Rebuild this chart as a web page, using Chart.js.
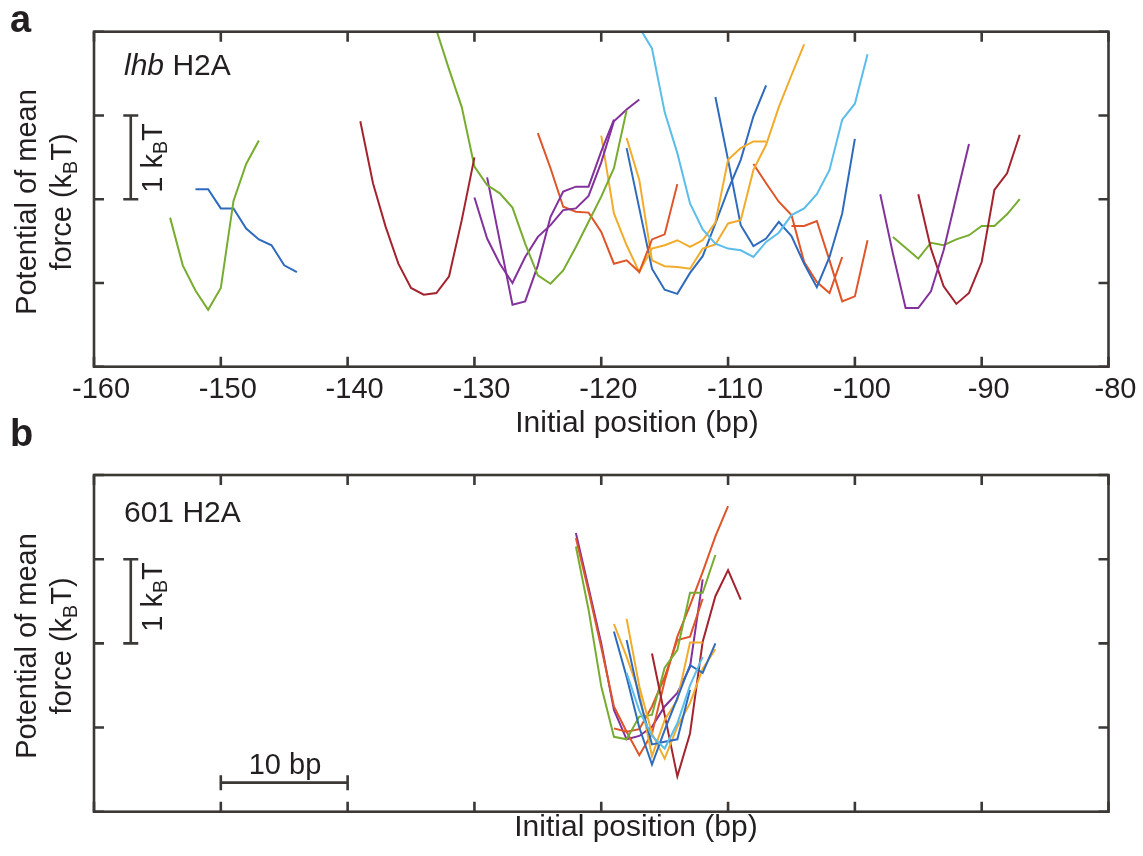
<!DOCTYPE html>
<html>
<head>
<meta charset="utf-8">
<title>Potential of mean force</title>
<script src="https://cdn.jsdelivr.net/npm/chart.js@4.4.1/dist/chart.umd.min.js"></script>
<style>
  html, body { margin: 0; padding: 0; background: #fff; }
  body {
    width: 1143px; height: 856px; position: relative; overflow: hidden;
    font-family: Arial, "Liberation Sans", sans-serif; color: #231f20;
  }
  canvas { position: absolute; left: 0; }
  #chart-a { top: 0; }
  #chart-b { top: 460px; }
  .label { position: absolute; white-space: nowrap; font-size: 29px; line-height: 35px; }
  .panel-letter { font-weight: bold; font-size: 38px; line-height: 44px; }
  .rotated { transform: translate(-50%, -50%) rotate(-90deg); text-align: center; }
  .centered { transform: translateX(-50%); }
  sub { font-size: 0.68em; line-height: 0; vertical-align: -0.28em; }
</style>
</head>
<body>

<canvas id="chart-a" width="1143" height="460"></canvas>
<canvas id="chart-b" width="1143" height="396"></canvas>

<div class="label panel-letter" style="left:10px; top:-3px;">a</div>
<div class="label panel-letter" style="left:10px; top:411px;">b</div>

<div class="label rotated" style="left:44px; top:202px;">Potential of mean<br>force (k<sub>B</sub>T)</div>
<div class="label rotated" style="left:44px; top:646px;">Potential of mean<br>force (k<sub>B</sub>T)</div>

<div class="label rotated" style="left:152px; top:158px;">1 k<sub>B</sub>T</div>
<div class="label rotated" style="left:152px; top:597px;">1 k<sub>B</sub>T</div>

<div class="label" style="left:124px; top:47px; font-size:30px;"><i>lhb</i> H2A</div>
<div class="label" style="left:124px; top:494px; font-size:30px;">601 H2A</div>

<div class="label centered" style="left:285px; top:747px;">10 bp</div>

<div class="label centered" style="left:637px; top:404px; font-size:30px;">Initial position (bp)</div>
<div class="label centered" style="left:636px; top:808px; font-size:30px;">Initial position (bp)</div>

<script>
// ==============================
// Axis Values
// ==============================
const positionTicks = [-160, -150, -140, -130, -120, -110, -100, -90, -80];
const pmfTicks = [0, 1, 2, 3, 4];

// ==============================
// Data: panel a (lhb H2A)
// ==============================
const lhbGreen1Pos = [-154, -153, -152, -151, -150, -149, -148, -147];
const lhbGreen1Pmf = [1.78, 1.21, 0.91, 0.68, 0.94, 1.98, 2.42, 2.70];

const lhbBlue1Pos = [-152, -151, -150, -149, -148, -147, -146, -145, -144];
const lhbBlue1Pmf = [2.12, 2.12, 1.89, 1.89, 1.65, 1.52, 1.45, 1.21, 1.13];

const lhbRed1Pos = [-139, -138, -137, -136, -135, -134, -133, -132, -131, -130];
const lhbRed1Pmf = [2.93, 2.19, 1.67, 1.23, 0.94, 0.86, 0.88, 1.08, 1.75, 2.50];

const lhbGreen2Pos = [-133, -132, -131, -130, -129, -128, -127, -126, -125, -124, -123, -122, -121, -120, -119, -118];
const lhbGreen2Pmf = [4.02, 3.55, 3.10, 2.39, 2.17, 2.07, 1.90, 1.47, 1.09, 0.99, 1.15, 1.43, 1.73, 2.03, 2.37, 3.06];

const lhbPurple1Pos = [-130, -129, -128, -127, -126, -125, -124, -123, -122, -121, -120, -119, -118, -117];
const lhbPurple1Pmf = [2.02, 1.53, 1.23, 1.00, 1.31, 1.55, 1.69, 1.87, 1.89, 2.04, 2.44, 2.93, 3.07, 3.19];

const lhbPurple2Pos = [-129, -128, -127, -126, -125, -124, -123, -122, -121, -120, -119];
const lhbPurple2Pmf = [2.26, 1.50, 0.74, 0.78, 1.21, 1.79, 2.09, 2.15, 2.15, 2.57, 2.95];

const lhbOrange1Pos = [-125, -124, -123, -122, -121, -120, -119, -118, -117, -116, -115, -114];
const lhbOrange1Pmf = [2.79, 2.37, 1.91, 1.85, 1.84, 1.61, 1.23, 1.27, 1.13, 1.52, 1.58, 2.18];

const lhbYellow1Pos = [-120, -119, -118, -117, -116, -115, -114, -113, -112, -111, -110, -109, -108, -107];
const lhbYellow1Pmf = [2.76, 1.83, 1.45, 1.13, 1.41, 1.45, 1.51, 1.43, 1.51, 1.72, 2.47, 2.61, 2.69, 2.69];

const lhbYellow2Pos = [-118, -117, -116, -115, -114, -113, -112, -111, -110, -109, -108, -107, -106, -105, -104];
const lhbYellow2Pmf = [2.73, 2.23, 1.27, 1.20, 1.19, 1.17, 1.41, 1.46, 1.71, 1.75, 2.35, 2.65, 3.10, 3.48, 3.85];

const lhbBlue2Pos = [-118, -117, -116, -115, -114, -113, -112, -111, -110, -109, -108, -107];
const lhbBlue2Pmf = [2.61, 1.89, 1.17, 0.92, 0.87, 1.12, 1.32, 1.71, 2.11, 2.47, 2.99, 3.36];

const lhbBlue3Pos = [-111, -110, -109, -108, -107, -106, -105, -104, -103, -102, -101, -100];
const lhbBlue3Pmf = [3.22, 2.47, 1.69, 1.44, 1.53, 1.73, 1.56, 1.23, 0.95, 1.31, 1.83, 2.72];

const lhbSkyPos = [-117, -116, -115, -114, -113, -112, -111, -110, -109, -108, -107, -106, -105, -104, -103, -102, -101, -100, -99];
const lhbSkyPmf = [4.05, 3.80, 3.04, 2.55, 1.95, 1.64, 1.47, 1.41, 1.39, 1.31, 1.49, 1.60, 1.81, 1.89, 2.06, 2.35, 2.95, 3.14, 3.73];

const lhbOrange2Pos = [-108, -107, -106, -105, -104, -103, -102, -101];
const lhbOrange2Pmf = [2.42, 2.19, 1.97, 1.81, 1.25, 1.01, 0.88, 1.31];

const lhbOrange3Pos = [-105, -104, -103, -102, -101, -100, -99];
const lhbOrange3Pmf = [1.68, 1.68, 1.74, 1.27, 0.78, 0.84, 1.51];

const lhbPurple3Pos = [-98, -97, -96, -95, -94, -93, -92, -91];
const lhbPurple3Pmf = [2.06, 1.35, 0.70, 0.70, 0.90, 1.39, 2.03, 2.66];

const lhbRed2Pos = [-95, -94, -93, -92, -91, -90, -89, -88, -87];
const lhbRed2Pmf = [2.06, 1.41, 0.96, 0.75, 0.88, 1.25, 2.11, 2.31, 2.77];

const lhbGreen3Pos = [-97, -96, -95, -94, -93, -92, -91, -90, -89, -88, -87];
const lhbGreen3Pmf = [1.55, 1.42, 1.29, 1.48, 1.45, 1.52, 1.57, 1.68, 1.68, 1.82, 2.00];

// ==============================
// Data: panel b (601 H2A)
// ==============================
const w601PurplePos = [-122, -121, -120, -119, -118, -117, -116, -115, -114, -113, -112];
const w601PurplePmf = [3.31, 2.66, 2.00, 1.21, 0.86, 0.90, 1.01, 1.25, 1.41, 1.72, 2.76];

const w601GreenPos = [-122, -121, -120, -119, -118, -117, -116, -115, -114, -113, -112, -111];
const w601GreenPmf = [3.15, 2.40, 1.49, 0.89, 0.86, 1.13, 1.15, 1.71, 1.92, 2.60, 2.60, 3.05];

const w601Orange1Pos = [-122, -121, -120, -119, -118, -117, -116, -115, -114, -113, -112, -111, -110];
const w601Orange1Pmf = [3.25, 2.62, 1.95, 1.25, 0.95, 0.67, 0.93, 1.55, 2.08, 2.45, 2.85, 3.27, 3.63];

const w601Orange2Pos = [-119, -118, -117, -116, -115, -114, -113, -112];
const w601Orange2Pmf = [0.99, 0.95, 0.98, 1.25, 1.60, 2.04, 2.08, 2.53];

const w601Yellow1Pos = [-119, -118, -117, -116, -115, -114, -113, -112];
const w601Yellow1Pmf = [2.23, 1.84, 1.41, 0.66, 1.09, 1.33, 2.01, 2.01];

const w601Yellow2Pos = [-118, -117, -116, -115, -114, -113, -112, -111];
const w601Yellow2Pmf = [2.29, 1.49, 0.93, 0.63, 1.01, 1.29, 1.70, 1.93];

const w601Blue1Pos = [-119, -118, -117, -116, -115, -114, -113, -112, -111];
const w601Blue1Pmf = [2.14, 1.60, 1.00, 0.56, 0.97, 1.35, 1.74, 1.65, 2.00];

const w601Blue2Pos = [-118, -117, -116, -115, -114, -113];
const w601Blue2Pmf = [2.04, 1.35, 0.80, 0.83, 0.86, 1.45];

const w601SkyPos = [-118, -117, -116, -115, -114, -113, -112];
const w601SkyPmf = [1.65, 1.20, 0.90, 0.75, 1.05, 1.50, 1.84];

const w601RedPos = [-116, -115, -114, -113, -112, -111, -110, -109];
const w601RedPmf = [1.88, 1.15, 0.42, 0.93, 2.02, 2.56, 2.87, 2.52];

// ==============================
// Styles
// ==============================
const colors = {
    blue: "#2f6bbd",
    orange: "#df5527",
    yellow: "#f2ac2b",
    purple: "#82329a",
    green: "#77ac30",
    sky: "#5bbdea",
    red: "#a3232e"
};
const inkColor = "#231f20";
const frameColor = "#3b3836";
const fontFamily = "Arial, 'Liberation Sans', sans-serif";

const lhbRuns = [
    { color: colors.green, pos: lhbGreen1Pos, pmf: lhbGreen1Pmf },
    { color: colors.blue, pos: lhbBlue1Pos, pmf: lhbBlue1Pmf },
    { color: colors.red, pos: lhbRed1Pos, pmf: lhbRed1Pmf },
    { color: colors.green, pos: lhbGreen2Pos, pmf: lhbGreen2Pmf },
    { color: colors.purple, pos: lhbPurple1Pos, pmf: lhbPurple1Pmf },
    { color: colors.purple, pos: lhbPurple2Pos, pmf: lhbPurple2Pmf },
    { color: colors.orange, pos: lhbOrange1Pos, pmf: lhbOrange1Pmf },
    { color: colors.sky, pos: lhbSkyPos, pmf: lhbSkyPmf },
    { color: colors.yellow, pos: lhbYellow1Pos, pmf: lhbYellow1Pmf },
    { color: colors.yellow, pos: lhbYellow2Pos, pmf: lhbYellow2Pmf },
    { color: colors.blue, pos: lhbBlue2Pos, pmf: lhbBlue2Pmf },
    { color: colors.blue, pos: lhbBlue3Pos, pmf: lhbBlue3Pmf },
    { color: colors.orange, pos: lhbOrange2Pos, pmf: lhbOrange2Pmf },
    { color: colors.orange, pos: lhbOrange3Pos, pmf: lhbOrange3Pmf },
    { color: colors.purple, pos: lhbPurple3Pos, pmf: lhbPurple3Pmf },
    { color: colors.red, pos: lhbRed2Pos, pmf: lhbRed2Pmf },
    { color: colors.green, pos: lhbGreen3Pos, pmf: lhbGreen3Pmf }
];

const w601Runs = [
    { color: colors.sky, pos: w601SkyPos, pmf: w601SkyPmf },
    { color: colors.blue, pos: w601Blue1Pos, pmf: w601Blue1Pmf },
    { color: colors.blue, pos: w601Blue2Pos, pmf: w601Blue2Pmf },
    { color: colors.yellow, pos: w601Yellow1Pos, pmf: w601Yellow1Pmf },
    { color: colors.yellow, pos: w601Yellow2Pos, pmf: w601Yellow2Pmf },
    { color: colors.red, pos: w601RedPos, pmf: w601RedPmf },
    { color: colors.green, pos: w601GreenPos, pmf: w601GreenPmf },
    { color: colors.orange, pos: w601Orange2Pos, pmf: w601Orange2Pmf },
    { color: colors.orange, pos: w601Orange1Pos, pmf: w601Orange1Pmf },
    { color: colors.purple, pos: w601PurplePos, pmf: w601PurplePmf }
];

// ==============================
// Frame, inward ticks and scale bars
// ==============================
const framePlugin = {
    id: "frame",
    afterDatasetsDraw(chart, args, opts) {
        const ctx = chart.ctx;
        const area = chart.chartArea;
        const xScale = chart.scales.x;
        const yScale = chart.scales.y;
        const tick = 10;

        ctx.save();
        ctx.strokeStyle = frameColor;
        ctx.lineWidth = 2.6;
        ctx.lineCap = "butt";
        ctx.beginPath();

        xScale.ticks.forEach(function (t) {
            const px = xScale.getPixelForValue(t.value);
            ctx.moveTo(px, area.bottom);
            ctx.lineTo(px, area.bottom - tick);
            ctx.moveTo(px, area.top);
            ctx.lineTo(px, area.top + tick);
        });
        yScale.ticks.forEach(function (t) {
            const py = yScale.getPixelForValue(t.value);
            ctx.moveTo(area.left, py);
            ctx.lineTo(area.left + tick, py);
            ctx.moveTo(area.right, py);
            ctx.lineTo(area.right - tick, py);
        });
        ctx.stroke();
        ctx.strokeRect(area.left, area.top, area.right - area.left, area.bottom - area.top);

        // 1 kBT bar
        if (opts.energyBar) {
            const bx = xScale.getPixelForValue(opts.energyBar.x);
            const y1 = yScale.getPixelForValue(opts.energyBar.from);
            const y2 = yScale.getPixelForValue(opts.energyBar.to);
            ctx.beginPath();
            ctx.moveTo(bx, y1);
            ctx.lineTo(bx, y2);
            ctx.moveTo(bx - 7.5, y1);
            ctx.lineTo(bx + 7.5, y1);
            ctx.moveTo(bx - 7.5, y2);
            ctx.lineTo(bx + 7.5, y2);
            ctx.stroke();
        }

        // 10 bp bar
        if (opts.lengthBar) {
            const by = yScale.getPixelForValue(opts.lengthBar.y);
            const x1 = xScale.getPixelForValue(opts.lengthBar.from);
            const x2 = xScale.getPixelForValue(opts.lengthBar.to);
            ctx.beginPath();
            ctx.moveTo(x1, by);
            ctx.lineTo(x2, by);
            ctx.moveTo(x1, by - 7.5);
            ctx.lineTo(x1, by + 7.5);
            ctx.moveTo(x2, by - 7.5);
            ctx.lineTo(x2, by + 7.5);
            ctx.stroke();
        }
        ctx.restore();
    }
};

// ==============================
// Create Charts
// ==============================
function buildDatasets(runs) {
    return runs.map(function (run) {
        return {
            data: run.pos.map(function (p, i) {
                return { x: p, y: run.pmf[i] };
            }),
            borderColor: run.color,
            borderWidth: 2,
            pointRadius: 0,
            tension: 0,
            fill: false,
            clip: 0
        };
    });
}

function makePanel(canvasId, runs, panel) {
    return new Chart(document.getElementById(canvasId), {
        type: "line",
        data: { datasets: buildDatasets(runs) },
        options: {
            responsive: false,
            animation: false,
            layout: { padding: { top: panel.padTop, right: 34.5, left: 0, bottom: 0 } },
            plugins: {
                legend: { display: false },
                tooltip: { enabled: false },
                frame: panel.frame
            },
            scales: {
                x: {
                    type: "linear",
                    min: positionTicks[0],
                    max: positionTicks[positionTicks.length - 1],
                    ticks: {
                        stepSize: 10,
                        display: panel.showTickLabels,
                        padding: 6,
                        labelOffset: 7,
                        color: inkColor,
                        font: { family: fontFamily, size: 29 }
                    },
                    grid: { display: false, drawTicks: false },
                    border: { display: false },
                    afterFit: function (scale) {
                        scale.height = panel.xAxisHeight;
                    }
                },
                y: {
                    type: "linear",
                    min: pmfTicks[0],
                    max: pmfTicks[pmfTicks.length - 1],
                    ticks: { stepSize: 1, display: false },
                    grid: { display: false, drawTicks: false },
                    border: { display: false },
                    afterFit: function (scale) {
                        scale.width = 94;
                    }
                }
            }
        },
        plugins: [framePlugin]
    });
}

makePanel("chart-a", lhbRuns, {
    padTop: 31.7,
    xAxisHeight: 93.3,
    showTickLabels: true,
    frame: { energyBar: { x: -157.1, from: 2, to: 3 } }
});

makePanel("chart-b", w601Runs, {
    padTop: 15,
    xAxisHeight: 44.3,
    showTickLabels: false,
    frame: {
        energyBar: { x: -157.1, from: 2, to: 3 },
        lengthBar: { from: -150, to: -140, y: 0.345 }
    }
});
</script>
</body>
</html>
